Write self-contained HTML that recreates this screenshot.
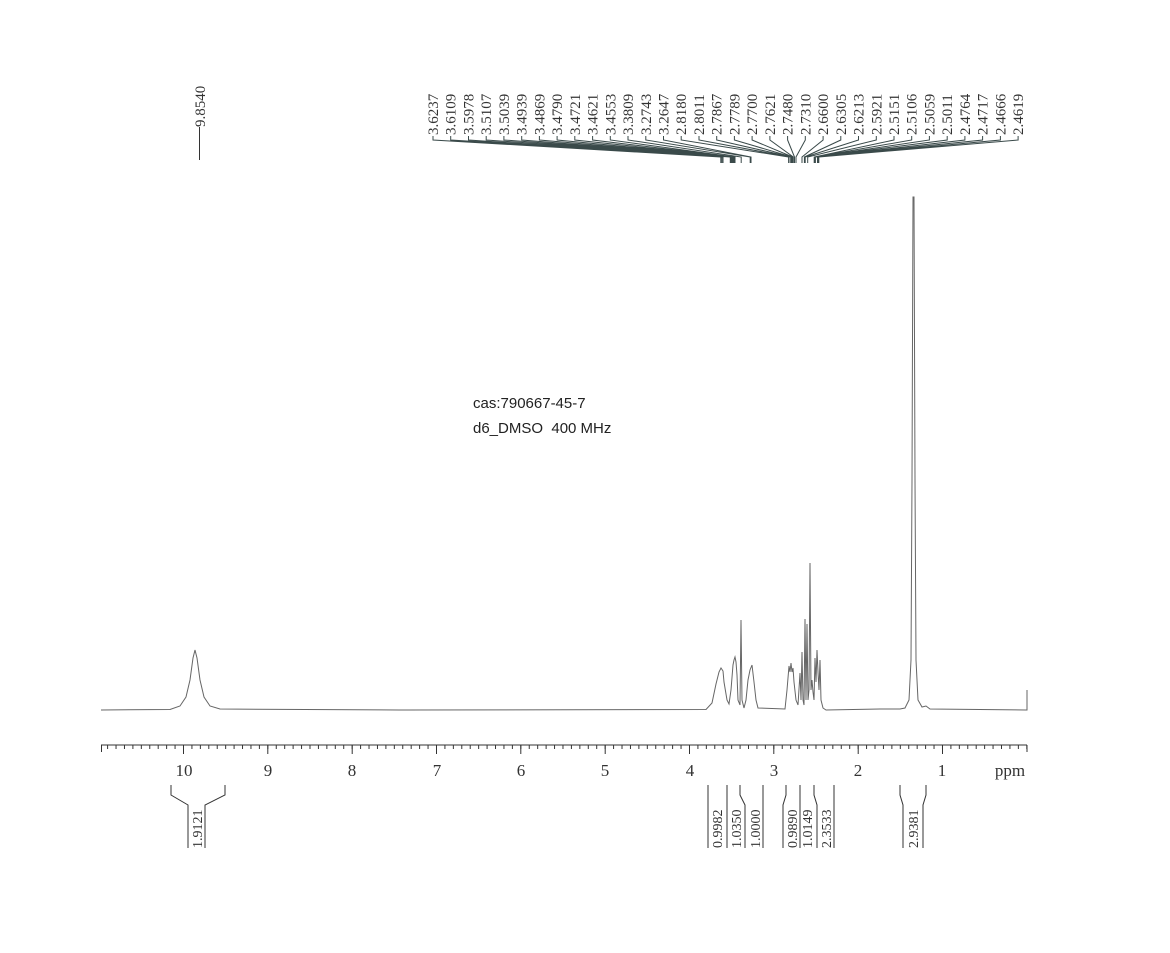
<!DOCTYPE html>
<html><head><meta charset="utf-8"><style>
html,body{margin:0;padding:0;background:#fff;}
svg{display:block}
.l{font-family:"Liberation Serif",serif;font-size:15px;fill:#333}
</style></head><body>
<svg width="1170" height="953" viewBox="0 0 1170 953" xmlns="http://www.w3.org/2000/svg">
<defs>
<pattern id="mt" x="183" y="0" width="8.433" height="10" patternUnits="userSpaceOnUse">
<line x1="0.5" y1="0" x2="0.5" y2="10" stroke="#333" stroke-width="1"/>
</pattern>
</defs>
<g fill="none" stroke="#333" stroke-width="1">
<line x1="101" y1="745" x2="1027" y2="745"/>
<rect x="101" y="745" width="926" height="4" fill="url(#mt)" stroke="none"/>
<path d="M101.5,745V752 M183.5,745V754 M267.8,745V754 M352.2,745V754 M436.5,745V754 M520.8,745V754 M605.2,745V754 M689.5,745V754 M773.8,745V754 M858.2,745V754 M942.5,745V754 M1027,745V752"/>
</g>
<g font-family="Liberation Serif,serif" font-size="17" fill="#333" text-anchor="middle">
<text x="184" y="776">10</text><text x="268" y="776">9</text><text x="352" y="776">8</text><text x="437" y="776">7</text><text x="521" y="776">6</text><text x="605" y="776">5</text><text x="690" y="776">4</text><text x="774" y="776">3</text><text x="858" y="776">2</text><text x="942" y="776">1</text><text x="1010" y="776">ppm</text>
</g>
<polyline fill="none" stroke="#666" stroke-width="1" points="101,710 170,709.5 180,706 186,697 190,680 193,658 195,650 197,658 200,680 204,697 210,706 220,709 400,710 706,709.5 712,703 716,684 719,672 721,668 723,671 724,682 727,700 729,704 731,690 733,665 734,660 735,657 736,662 737,675 738,700 740,705 741,620 742,700 744,708 746,700 748,680 750,670 752,665 754,682 756,700 758,708 785,709 787,690 789,666 790,672 791,663 792,672 793,668 794,682 796,700 798,705 800,673 801,700 802,652 803,700 804,705 805,619 806,700 807,624 808,700 809,690 810,563 811,690 812,680 813,692 814,700 815,658 816,682 817,650 818,672 819,690 820,660 821,700 823,708 826,710 880,709 900,709 905,708 909,700 911,660 912,480 913,197 914,197 915,480 916,660 918,700 922,707 926,706 930,709 1026,710 1027,710 1027,690"/>
<line x1="199.5" y1="127" x2="199.5" y2="160" stroke="#333"/>
<text class="l" transform="translate(205,127) rotate(-90)">9.8540</text>
<g class="l">
<text transform="translate(438,135) rotate(-90)">3.6237</text>
<text transform="translate(455.7,135) rotate(-90)">3.6109</text>
<text transform="translate(473.5,135) rotate(-90)">3.5978</text>
<text transform="translate(491.2,135) rotate(-90)">3.5107</text>
<text transform="translate(508.9,135) rotate(-90)">3.5039</text>
<text transform="translate(526.7,135) rotate(-90)">3.4939</text>
<text transform="translate(544.4,135) rotate(-90)">3.4869</text>
<text transform="translate(562.1,135) rotate(-90)">3.4790</text>
<text transform="translate(579.8,135) rotate(-90)">3.4721</text>
<text transform="translate(597.6,135) rotate(-90)">3.4621</text>
<text transform="translate(615.3,135) rotate(-90)">3.4553</text>
<text transform="translate(633,135) rotate(-90)">3.3809</text>
<text transform="translate(650.8,135) rotate(-90)">3.2743</text>
<text transform="translate(668.5,135) rotate(-90)">3.2647</text>
<text transform="translate(686.2,135) rotate(-90)">2.8180</text>
<text transform="translate(704,135) rotate(-90)">2.8011</text>
<text transform="translate(721.7,135) rotate(-90)">2.7867</text>
<text transform="translate(739.4,135) rotate(-90)">2.7789</text>
<text transform="translate(757.1,135) rotate(-90)">2.7700</text>
<text transform="translate(774.9,135) rotate(-90)">2.7621</text>
<text transform="translate(792.6,135) rotate(-90)">2.7480</text>
<text transform="translate(810.3,135) rotate(-90)">2.7310</text>
<text transform="translate(828.1,135) rotate(-90)">2.6600</text>
<text transform="translate(845.8,135) rotate(-90)">2.6305</text>
<text transform="translate(863.5,135) rotate(-90)">2.6213</text>
<text transform="translate(881.3,135) rotate(-90)">2.5921</text>
<text transform="translate(899,135) rotate(-90)">2.5151</text>
<text transform="translate(916.7,135) rotate(-90)">2.5106</text>
<text transform="translate(934.4,135) rotate(-90)">2.5059</text>
<text transform="translate(952.2,135) rotate(-90)">2.5011</text>
<text transform="translate(969.9,135) rotate(-90)">2.4764</text>
<text transform="translate(987.6,135) rotate(-90)">2.4717</text>
<text transform="translate(1005.4,135) rotate(-90)">2.4666</text>
<text transform="translate(1023.1,135) rotate(-90)">2.4619</text>
</g>
<g fill="none" stroke="#3a4a4a" stroke-width="1">
<path d="M433,136V140L720.8,157V163 M450.7,136V140L721.9,157V163 M468.5,136V140L723,157V163 M486.2,136V140L730.3,157V163 M503.9,136V140L730.9,157V163 M521.7,136V140L731.7,157V163 M539.4,136V140L732.3,157V163 M557.1,136V140L733,157V163 M574.8,136V140L733.6,157V163 M592.6,136V140L734.4,157V163 M610.3,136V140L735,157V163 M628,136V140L741.2,157V163 M645.8,136V140L750.2,157V163 M663.5,136V140L751,157V163 M681.2,136V140L788.6,157V163 M699,136V140L790.1,157V163 M716.7,136V140L791.3,157V163 M734.4,136V140L791.9,157V163 M752.1,136V140L792.7,157V163 M769.9,136V140L793.3,157V163 M787.6,136V140L794.5,157V163 M805.3,136V140L796,157V163 M823.1,136V140L802,157V163 M840.8,136V140L804.4,157V163 M858.5,136V140L805.2,157V163 M876.3,136V140L807.7,157V163 M894,136V140L814.2,157V163 M911.7,136V140L814.6,157V163 M929.4,136V140L815,157V163 M947.2,136V140L815.4,157V163 M964.9,136V140L817.5,157V163 M982.6,136V140L817.9,157V163 M1000.4,136V140L818.4,157V163 M1018.1,136V140L818.8,157V163"/>
</g>
<g font-family="Liberation Sans,sans-serif" font-size="15" fill="#222">
<text x="473" y="408">cas:790667-45-7</text>
<text x="473" y="433" xml:space="preserve">d6_DMSO  400 MHz</text>
</g>
<g fill="none" stroke="#333" stroke-width="1">
<path d="M171,785V795L188,805V848 M225,785V795L205,805V848"/>
<path d="M708,785V848 M727,785V848 M740,785V795L745,805V848 M763,785V848"/>
<path d="M786,785V795L783,805V848 M800,785V848 M814,785V795L817,805V848 M834,785V848"/>
<path d="M900,785V795L903,805V848 M926,785V795L923,805V848"/>
</g>
<g class="l" style="font-size:14px">
<text transform="translate(202,848) rotate(-90)">1.9121</text>
<text transform="translate(722,848) rotate(-90)">0.9982</text>
<text transform="translate(741,848) rotate(-90)">1.0350</text>
<text transform="translate(760,848) rotate(-90)">1.0000</text>
<text transform="translate(797,848) rotate(-90)">0.9890</text>
<text transform="translate(812,848) rotate(-90)">1.0149</text>
<text transform="translate(831,848) rotate(-90)">2.3533</text>
<text transform="translate(918,848) rotate(-90)">2.9381</text>
</g>
</svg>
</body></html>
